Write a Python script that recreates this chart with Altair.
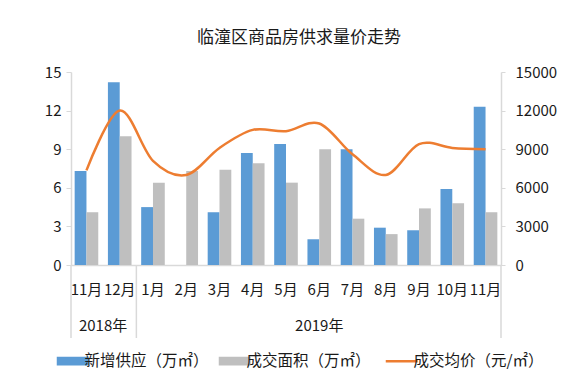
import altair as alt
import pandas as pd

# ---- data ----
years = ["2018年", "2018年"] + ["2019年"] * 11
months = ["11月", "12月", "1月", "2月", "3月", "4月", "5月", "6月", "7月", "8月", "9月", "10月", "11月"]
supply = [7.3, 14.2, 4.5, 0.0, 4.1, 8.7, 9.4, 2.0, 9.0, 2.9, 2.7, 5.9, 12.3]
deal = [4.1, 10.0, 6.4, 7.3, 7.4, 7.9, 6.4, 9.0, 3.6, 2.4, 4.4, 4.8, 4.1]
price = [7350, 12000, 8100, 7000, 9100, 10500, 10400, 11000, 8600, 7000, 9400, 9100, 9000]
series_names = ["新增供应（万㎡）", "成交面积（万㎡）", "成交均价（元/㎡）"]
colors = ["#5B9BD5", "#BFBFBF", "#ED7D31"]
left_ticks = [0, 3, 6, 9, 12, 15]
right_ticks = [0, 3000, 6000, 9000, 12000, 15000]
year_groups = ["2018年", "2019年"]
title_text = "临潼区商品房供求量价走势"

keys = [y + m for y, m in zip(years, months)]

bar_rows = []
for k, s, d in zip(keys, supply, deal):
    bar_rows.append({"key": k, "series": series_names[0], "value": s})
    bar_rows.append({"key": k, "series": series_names[1], "value": d})
bars_df = pd.DataFrame(bar_rows)
line_df = pd.DataFrame({"key": keys, "series": series_names[2], "price": price})

FONT = "Noto Sans CJK SC"
TXT = "#1a1a1a"
AX = "#D9D9D9"
W, H = 430, 193
LN = series_names[2]

x_enc = alt.X(
    "key:N",
    sort=keys,
    scale=alt.Scale(domain=keys, paddingInner=0.29, paddingOuter=0.11),
    axis=alt.Axis(
        title=None,
        labelExpr="split(datum.value, '年')[1]",
        labelAngle=0,
        labelFontSize=15,
        labelColor=TXT,
        labelPadding=17,
        labelOverlap=False,
        labelBound=False,
        ticks=False,
        tickSize=0,
        domainColor=AX,
        domainWidth=1.5,
        grid=False,
    ),
)

color_enc = alt.Color(
    "series:N",
    scale=alt.Scale(domain=series_names, range=colors),
    legend=alt.Legend(
        title=None,
        orient="none",
        direction="horizontal",
        legendX=-6,
        legendY=281,
        columns=3,
        columnPadding=9,
        padding=0,
        symbolSize=1024,
        labelOffset=4,
        labelFontSize=15.5,
        labelColor=TXT,
        labelLimit=400,
        symbolOpacity=1,
        symbolType=alt.ExprRef(expr=f"datum.value == '{LN}' ? 'stroke' : 'M-1,-0.28H1V0.28H-1Z'"),
        symbolFillColor=alt.ExprRef(expr=f"datum.value == '{LN}' ? 'transparent' : (datum.value == '{series_names[0]}' ? '{colors[0]}' : '{colors[1]}')"),
        symbolStrokeColor=alt.ExprRef(expr=f"datum.value == '{LN}' ? '{colors[2]}' : 'transparent'"),
        symbolStrokeWidth=alt.ExprRef(expr=f"datum.value == '{LN}' ? 2.5 : 0"),
    ),
)

bars = alt.Chart(bars_df).mark_bar(opacity=1).encode(
    x=x_enc,
    xOffset=alt.XOffset("series:N", sort=series_names[:2], scale=alt.Scale(domain=series_names[:2], paddingInner=0, paddingOuter=0)),
    y=alt.Y(
        "value:Q",
        scale=alt.Scale(domain=[0, 15], nice=False),
        axis=alt.Axis(
            title=None, values=left_ticks, grid=False, domainColor=AX, domainWidth=1.5,
            tickColor=AX, tickSize=5, labelPadding=5, labelFontSize=15, labelColor=TXT,
        ),
    ),
    color=color_enc,
)

line = alt.Chart(line_df).mark_line(interpolate="cardinal", strokeWidth=2.5).encode(
    x=alt.X("key:N", sort=keys),
    y=alt.Y(
        "price:Q",
        scale=alt.Scale(domain=[0, 15000], nice=False),
        axis=alt.Axis(
            title=None, orient="right", values=right_ticks, format="d", grid=False, domainColor=AX, domainWidth=1.5,
            tickColor=AX, tickSize=4, labelPadding=10, labelFontSize=15, labelColor=TXT,
        ),
    ),
    color=alt.Color("series:N"),
)

# separators below x axis
sep_df = pd.DataFrame({"key": [keys[2]]})
sep_mid = alt.Chart(sep_df).mark_rule(color=AX, strokeWidth=1.5, xOffset=-4.8).encode(
    x=alt.X("key:N", sort=keys, bandPosition=0),
    y=alt.value(H),
    y2=alt.value(H + 73),
)
sep_left = alt.Chart(pd.DataFrame({"e": [0]})).mark_rule(color=AX, strokeWidth=1.5).encode(
    x=alt.value(0), y=alt.value(H), y2=alt.value(H + 73)
)
sep_right = alt.Chart(pd.DataFrame({"e": [0]})).mark_rule(color=AX, strokeWidth=1.5).encode(
    x=alt.value(W), y=alt.value(H), y2=alt.value(H + 73)
)

# year group labels
y2018 = alt.Chart(pd.DataFrame({"key": [keys[1]], "label": [year_groups[0]]})).mark_text(
    fontSize=15, color=TXT, baseline="middle", align="center", dx=-4.8
).encode(x=alt.X("key:N", sort=keys, bandPosition=0), y=alt.value(H + 61), text="label:N")
y2019 = alt.Chart(pd.DataFrame({"key": [keys[7]], "label": [year_groups[1]]})).mark_text(
    fontSize=15, color=TXT, baseline="middle", align="center"
).encode(x=alt.X("key:N", sort=keys, bandPosition=0.5), y=alt.value(H + 61), text="label:N")

chart = (
    alt.layer(bars, line, sep_mid, sep_left, sep_right, y2018, y2019)
    .resolve_scale(y="independent")
    .properties(
        width=W,
        height=H,
        autosize=alt.AutoSizeParams(type="none"),
        padding={"left": 63, "top": 64, "right": 77, "bottom": 113},
        title=alt.TitleParams(
            text=title_text, fontSize=17, font=FONT, color=TXT, fontWeight="normal",
            anchor="middle", dx=13, offset=18,
        ),
    )
    .configure(font=FONT)
    .configure_view(stroke=None)
)

chart.save("out.html", embed_options={"renderer": "svg", "actions": False})
